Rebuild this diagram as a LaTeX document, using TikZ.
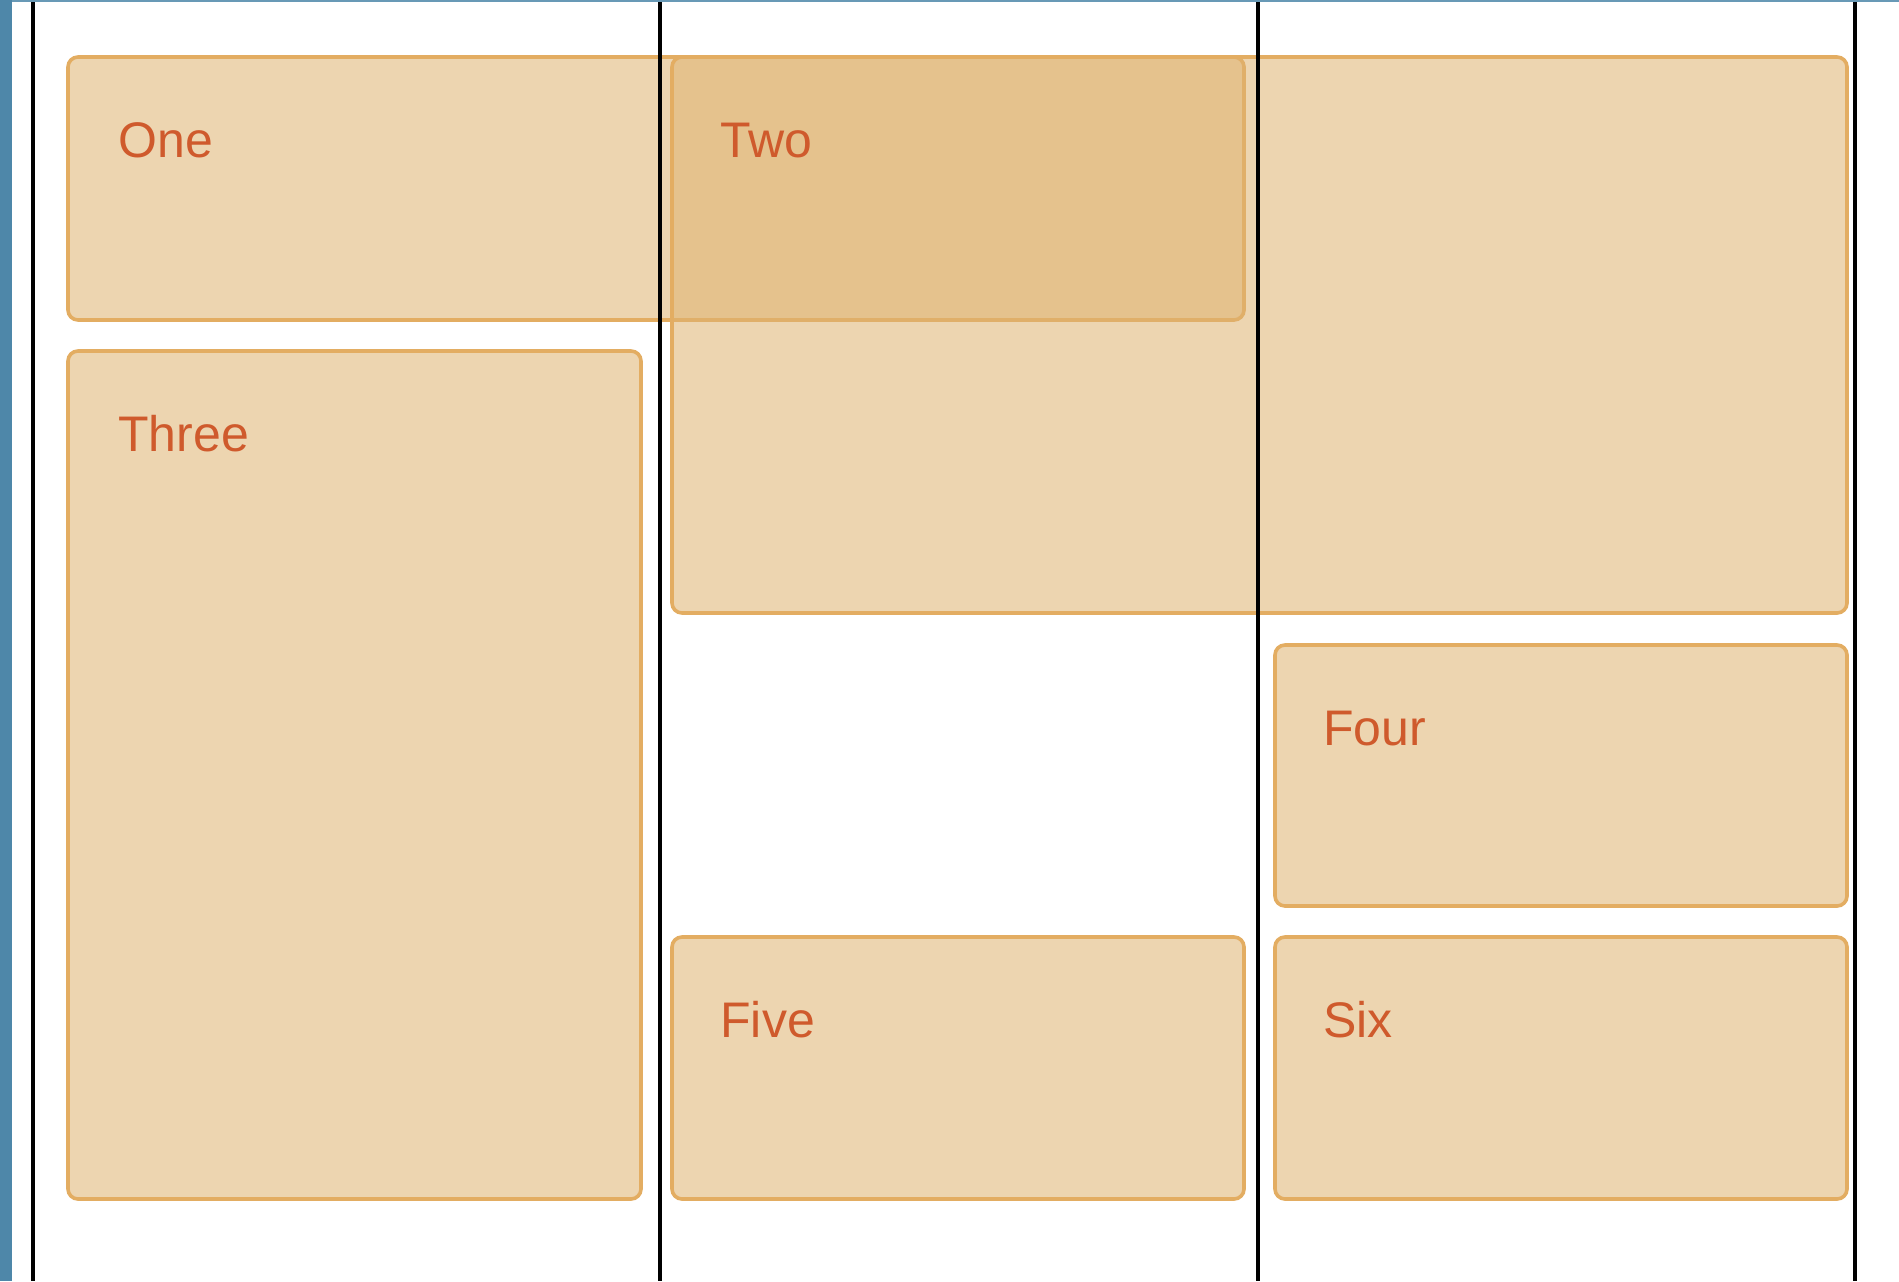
\documentclass[tikz,border=0pt]{standalone}
\usepackage{fontspec}
\setmainfont{Liberation Sans}
\usepackage{tikz}
\usetikzlibrary{positioning,calc}
\definecolor{frameBlue}{HTML}{4E87A9}
\definecolor{cellFill}{RGB}{222,178,112}
\definecolor{cellEdge}{HTML}{E3AD62}
\definecolor{cellInk}{HTML}{CF5A2C}
\tikzset{
  cell/.style={rectangle, rounded corners=5pt, draw=cellEdge, line width=1.8pt,
               fill=cellFill, fill opacity=0.55, draw opacity=1,
               anchor=north west, inner sep=0pt, outer sep=0pt},
  celltext/.style={anchor=base west, inner sep=0pt, text=cellInk,
                   font=\fontsize{25}{30}\selectfont},
  track/.style={line width=2pt, draw=black},
  edgebar/.style={fill=frameBlue}
}
\begin{document}
\begin{tikzpicture}[x=0.5pt, y=-0.5pt]
\useasboundingbox (0,0) rectangle (1899,1281);
\fill[edgebar] (0,0) rectangle (12,1281);
\fill[edgebar, fill opacity=0.85] (0,0) rectangle (1899,2);

% grid items
\node[cell, minimum width=588pt, minimum height=131.5pt] (one) at (68,57) {};
\node[cell, minimum width=587.5pt, minimum height=278pt] (two) at (672,57) {};
\node[cell, minimum width=286.5pt, minimum height=424pt] (three) at (68,351) {};
\node[cell, minimum width=286pt, minimum height=130.5pt] (four) at (1275,645) {};
\node[cell, minimum width=286pt, minimum height=131pt] (five) at (672,937) {};
\node[cell, minimum width=286pt, minimum height=131pt] (six) at (1275,937) {};

\node[celltext] (oneText) at ($(one.north west)+(50,100)$) {One};
\node[celltext] (twoText) at ($(two.north west)+(48,100)$) {Two};
\node[celltext] (threeText) at ($(three.north west)+(50,100)$) {Three};
\node[celltext] (fourText) at ($(four.north west)+(48,100)$) {Four};
\node[celltext] (fiveText) at ($(five.north west)+(48,100)$) {Five};
\node[celltext] (sixText) at ($(six.north west)+(48,100)$) {Six};

% column lines
\foreach \x in {33,660,1258,1855}
  \draw[track] (\x,2) -- (\x,1281);
\end{tikzpicture}
\end{document}
